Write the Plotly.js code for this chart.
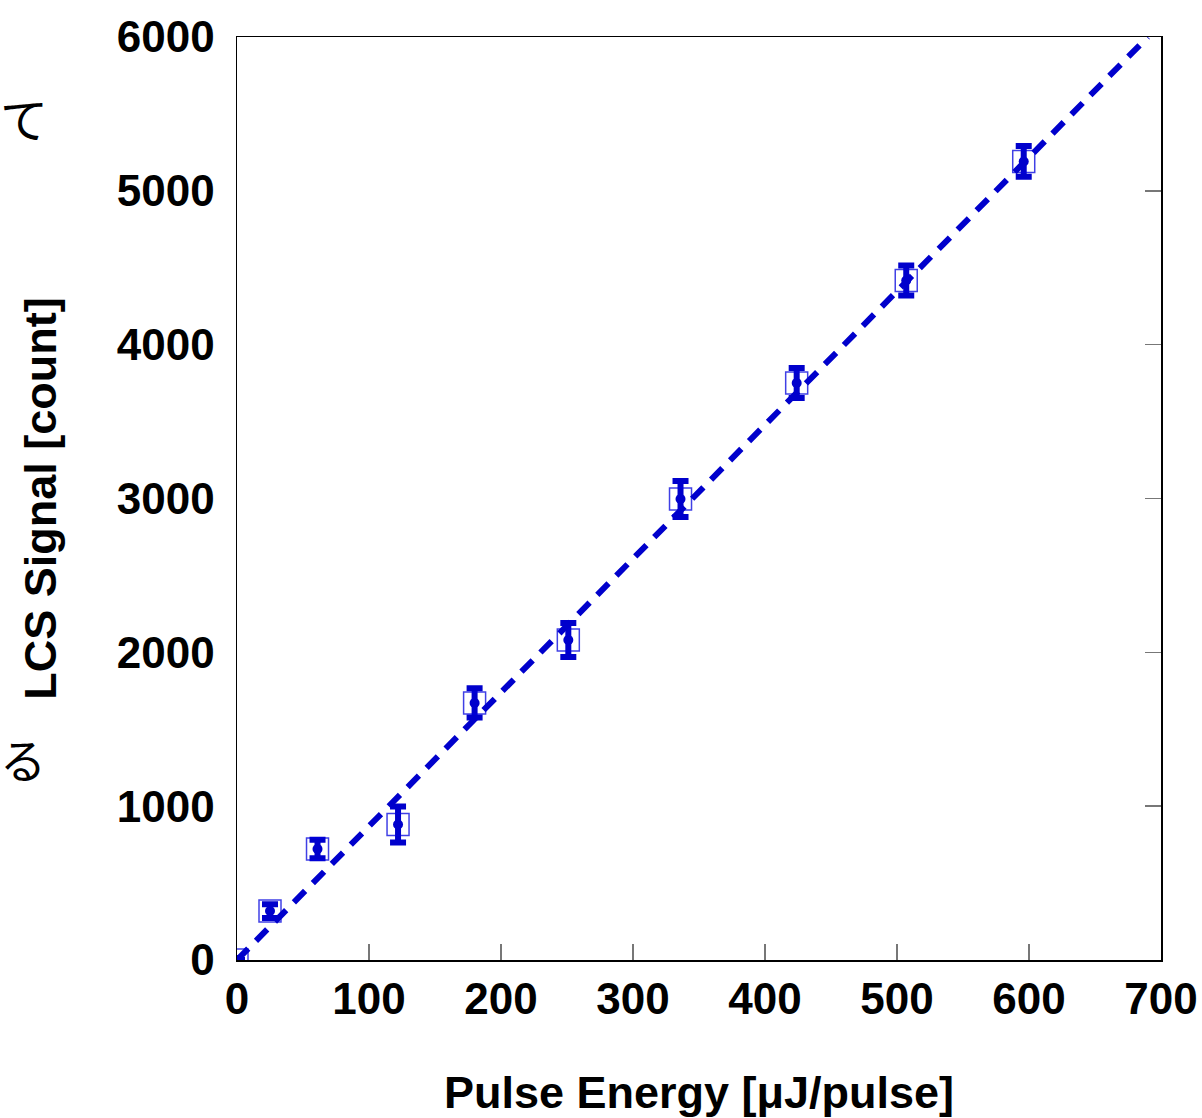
<!DOCTYPE html>
<html>
<head>
<meta charset="utf-8">
<script src="https://cdn.plot.ly/plotly-3.0.1.min.js"></script>
<style>html,body{margin:0;padding:0;background:#fff;}#chart{width:1202px;height:1118px;}</style>
</head>
<body>
<div id="chart"></div>
<script>
// Measured data
const energy = [0, 25, 61, 122, 180, 251, 336, 424, 507, 596];
const signal = [0, 318, 722, 881, 1671, 2080, 2997, 3751, 4417, 5191];
const signalErr = [0, 45, 60, 117, 95, 110, 117, 97, 97, 100];
// Linear fit line
const fitX = [0, 690];
const fitY = [0, 6000];
const xTicks = [0, 100, 200, 300, 400, 500, 600, 700];
const yTicks = [0, 1000, 2000, 3000, 4000, 5000, 6000];

const blue = '#0000cc';
const font = 'Liberation Sans, Arial, sans-serif';

const traces = [
  {
    x: fitX, y: fitY, mode: 'lines', type: 'scatter', hoverinfo: 'skip', yaxis: 'y2',
    line: {color: blue, width: 6, dash: '16px,11px'}
  },
  {
    x: energy, y: signal, mode: 'markers', type: 'scatter',
    marker: {symbol: 'square-open', size: 22, color: 'rgba(0,0,220,0.75)', line: {width: 1.5, color: 'rgba(0,0,220,0.75)'}},
    error_y: {type: 'data', array: signalErr, visible: true, color: blue, thickness: 6, width: 8}
  },
  {
    x: energy, y: signal, mode: 'markers', type: 'scatter',
    marker: {symbol: 'circle', size: 10, color: blue}
  }
];

const layout = {
  width: 1202, height: 1118,
  margin: {l: 237, r: 41, t: 37, b: 158},
  paper_bgcolor: '#fff', plot_bgcolor: '#fff',
  showlegend: false,
  font: {family: font, color: '#000'},
  xaxis: {
    range: [0, 700], tickvals: xTicks, ticktext: xTicks.map(String),
    ticks: 'inside', ticklen: 16, tickwidth: 1.5, tickcolor: '#777',
    showline: true, linecolor: '#000', linewidth: 1.5, mirror: true,
    showgrid: false, zeroline: false, ticklabelstandoff: 0,
    tickfont: {family: font, size: 44, weight: 'bold', color: '#000'},
    title: {text: '<b>Pulse Energy [μJ/pulse]</b>', font: {family: font, size: 45, color: '#000'}, standoff: 60}
  },
  yaxis: {
    range: [0, 6000], tickvals: yTicks, ticktext: yTicks.map(String),
    ticks: '', showline: true, linecolor: '#000', linewidth: 1.5, mirror: true,
    showgrid: false, zeroline: false, ticklabelstandoff: 12,
    tickfont: {family: font, size: 44, weight: 'bold', color: '#000'},
    title: {text: '<b>LCS Signal [count]</b>', font: {family: font, size: 45, color: '#000'}, standoff: 46}
  },
  yaxis2: {
    range: [0, 6000], overlaying: 'y', side: 'right', tickvals: yTicks,
    ticks: 'inside', ticklen: 16, tickwidth: 1.5, tickcolor: '#777',
    showticklabels: false, showline: false, showgrid: false, zeroline: false
  },
  annotations: [
    {text: 'て', xref: 'paper', yref: 'paper', x: -0.2305, y: 0.913, xanchor: 'center', yanchor: 'middle', showarrow: false,
     font: {family: 'Noto Sans CJK JP', size: 48, color: '#000'}},
    {text: 'る', xref: 'paper', yref: 'paper', x: -0.232, y: 0.219, xanchor: 'center', yanchor: 'middle', showarrow: false,
     font: {family: 'Noto Sans CJK JP', size: 46, color: '#000'}}
  ]
};

Plotly.newPlot('chart', traces, layout, {displayModeBar: false, staticPlot: true});
</script>
</body>
</html>
